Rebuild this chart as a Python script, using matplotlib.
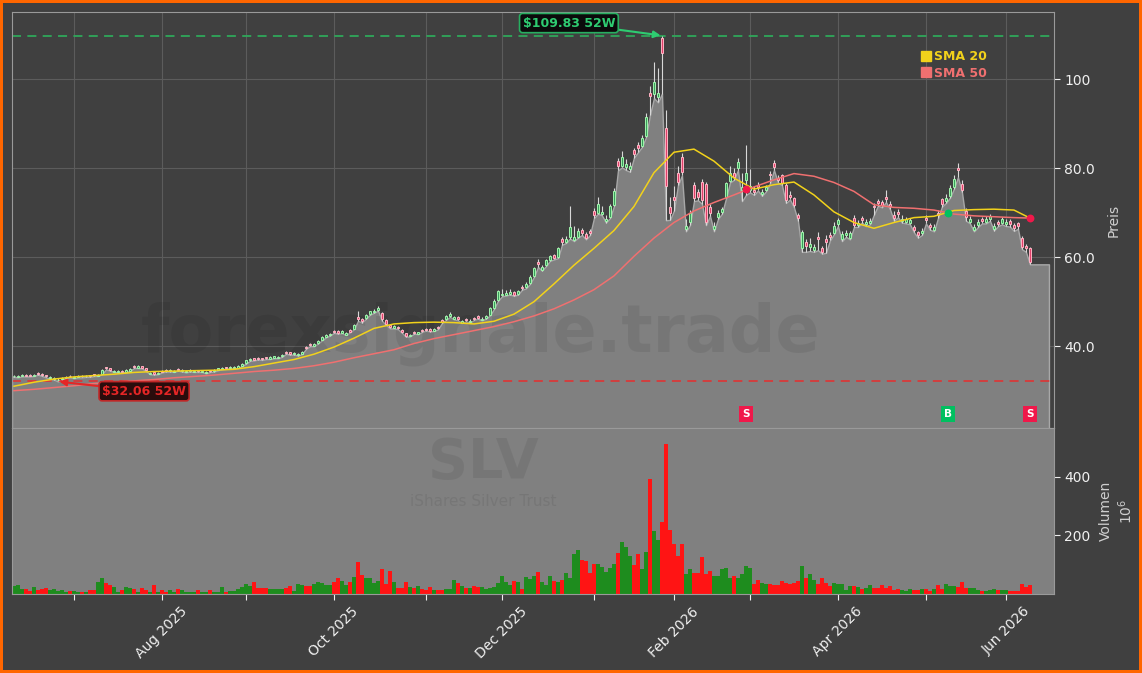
import numpy as np
import matplotlib
matplotlib.use("Agg")
import matplotlib.pyplot as plt
import matplotlib.transforms as mtransforms
from matplotlib.lines import Line2D

# --- daily candles (52 weeks, one entry per trading day) ---
opens = [
    33.2, 33.1, 33.3, 33.6, 33.6, 33.4, 34.0, 33.8, 33.5, 32.8,
    32.6, 32.3, 32.6, 32.9, 33.4, 32.9, 33.1, 33.4, 33.2, 33.5,
    33.7, 33.4, 33.8, 35.3, 35.1, 34.3, 34.2, 34.5, 34.3, 34.5,
    35.5, 35.2, 35.5, 35.1, 33.8, 34.1, 33.8, 34.5, 34.7, 34.4,
    34.3, 34.9, 34.4, 34.2, 34.4, 34.3, 34.6, 34.3, 34.0, 34.6,
    34.4, 34.7, 34.9, 35.3, 35.1, 35.1, 35.2, 35.6, 36.2, 36.8,
    37.3, 37.4, 37.3, 37.5, 37.2, 37.4, 37.4, 37.7, 38.8, 38.6,
    38.2, 38.0, 38.3, 39.9, 40.5, 40.1, 40.7, 41.4, 42.1, 42.5,
    43.5, 43.4, 43.0, 42.6, 43.6, 43.9, 46.6, 46.0, 46.4, 47.2,
    47.7, 48.1, 47.4, 45.8, 44.8, 44.1, 44.4, 43.7, 42.9, 42.3,
    43.2, 42.8, 43.6, 43.9, 43.8, 43.5, 44.3, 45.8, 46.0, 46.8,
    46.2, 46.6, 45.3, 46.2, 45.4, 46.4, 46.7, 45.9, 46.3, 47.0,
    48.6, 50.4, 51.4, 51.6, 51.8, 52.1, 51.8, 53.4, 53.2, 54.2,
    55.8, 59.0, 57.2, 58.2, 59.4, 60.4, 60.0, 64.2, 63.4, 64.5,
    63.8, 64.6, 66.2, 65.2, 66.0, 70.5, 70.0, 69.8, 68.2, 69.0,
    71.8, 81.6, 80.6, 80.2, 79.8, 84.0, 85.2, 85.0, 87.2, 97.0,
    96.8, 96.0, 109.3, 89.0, 71.2, 73.6, 79.0, 82.5, 66.4, 67.9,
    76.2, 74.6, 76.9, 76.4, 71.2, 66.4, 69.0, 70.2, 73.5, 77.2,
    79.0, 80.0, 75.0, 77.4, 75.2, 75.2, 76.2, 74.2, 75.1, 78.8,
    81.1, 77.9, 78.4, 76.2, 74.0, 73.3, 69.4, 62.0, 63.4, 62.2,
    61.6, 64.6, 62.0, 64.0, 65.0, 65.5, 67.4, 64.0, 65.0, 64.4,
    68.8, 67.2, 68.8, 67.4, 67.8, 71.6, 72.6, 72.4, 73.6, 72.0,
    69.6, 70.2, 68.2, 68.0, 67.8, 66.8, 65.6, 65.4, 68.8, 67.3,
    66.2, 70.0, 73.0, 72.6, 73.8, 75.8, 80.0, 76.5, 70.4, 68.0,
    66.2, 67.2, 68.6, 68.0, 68.6, 66.4, 68.0, 67.8, 67.5, 68.1,
    67.2, 67.6, 64.4, 62.6, 62.0,
]
highs = [
    33.6, 33.5, 33.7, 33.7, 33.7, 33.8, 34.1, 33.9, 33.6, 33.2,
    33.0, 32.8, 33.1, 33.3, 33.5, 33.3, 33.5, 33.5, 33.6, 33.6,
    33.8, 33.8, 34.8, 35.4, 35.2, 34.7, 34.6, 34.6, 34.8, 35.0,
    35.7, 35.7, 35.6, 35.2, 34.2, 34.2, 34.2, 34.6, 34.8, 34.8,
    34.7, 35.0, 34.8, 34.6, 34.8, 34.7, 34.7, 34.7, 34.4, 34.7,
    34.8, 35.2, 35.4, 35.4, 35.6, 35.5, 35.7, 36.2, 37.0, 37.3,
    37.4, 37.5, 37.4, 37.6, 37.7, 37.9, 37.8, 38.2, 38.9, 38.7,
    38.7, 38.4, 39.0, 40.1, 40.7, 40.7, 41.4, 42.2, 42.8, 43.0,
    43.7, 43.6, 43.6, 43.1, 43.8, 45.0, 48.0, 46.3, 47.2, 48.0,
    48.3, 49.0, 47.6, 46.0, 45.0, 44.7, 44.6, 43.9, 43.0, 42.8,
    43.4, 43.3, 43.8, 44.1, 44.0, 44.0, 44.5, 46.0, 47.0, 47.6,
    46.8, 46.8, 45.9, 46.4, 46.0, 46.6, 46.9, 46.5, 47.0, 48.8,
    50.5, 52.6, 52.9, 52.6, 52.8, 52.5, 52.7, 53.8, 54.4, 56.0,
    57.9, 59.5, 58.3, 59.7, 60.6, 60.8, 62.4, 64.6, 64.8, 71.5,
    67.0, 66.5, 66.6, 65.6, 66.4, 71.0, 73.5, 71.5, 69.5, 72.0,
    75.5, 82.4, 83.8, 82.0, 81.5, 84.6, 85.8, 87.4, 92.4, 98.4,
    103.8, 102.6, 109.83, 93.0, 73.5, 76.0, 80.4, 83.4, 68.6, 70.6,
    76.8, 75.4, 77.6, 76.9, 72.0, 68.0, 70.6, 71.4, 77.0, 80.4,
    80.0, 82.4, 79.0, 85.2, 79.8, 76.0, 76.8, 75.4, 76.3, 79.4,
    81.8, 78.4, 78.8, 76.6, 74.8, 73.6, 70.0, 66.2, 64.0, 64.4,
    63.0, 65.6, 62.6, 65.0, 65.6, 68.0, 68.8, 66.0, 66.2, 66.0,
    69.4, 68.4, 69.2, 68.6, 68.8, 72.2, 73.0, 72.8, 75.0, 72.6,
    70.4, 70.8, 69.4, 69.0, 68.8, 67.2, 66.0, 66.6, 69.4, 67.8,
    67.4, 70.6, 73.4, 74.2, 76.2, 78.4, 81.2, 77.4, 71.0, 69.2,
    67.4, 68.6, 69.0, 69.2, 69.8, 67.6, 68.4, 69.0, 68.6, 68.5,
    67.6, 68.0, 64.8, 63.0, 62.4,
]
lows = [
    33.1, 33.0, 33.2, 33.2, 33.2, 33.3, 33.6, 33.3, 33.0, 32.7,
    32.5, 32.06, 32.5, 32.8, 33.0, 32.8, 33.0, 33.0, 33.1, 33.1,
    33.3, 33.3, 33.7, 34.8, 34.5, 34.2, 34.1, 34.1, 34.2, 34.4,
    35.1, 35.1, 35.0, 34.4, 33.7, 33.6, 33.7, 34.1, 34.3, 34.3,
    34.2, 34.5, 34.3, 34.1, 34.3, 34.2, 34.2, 34.2, 33.9, 34.2,
    34.3, 34.6, 34.8, 34.9, 35.0, 35.0, 35.1, 35.5, 36.1, 36.7,
    36.8, 37.0, 36.9, 37.1, 37.1, 37.3, 37.3, 37.6, 38.3, 38.1,
    38.1, 37.9, 38.2, 39.4, 40.0, 40.0, 40.6, 41.3, 42.0, 42.4,
    43.0, 42.8, 42.9, 42.5, 43.1, 43.8, 45.7, 45.3, 46.2, 47.1,
    47.5, 48.0, 45.7, 44.8, 44.0, 44.0, 43.8, 43.0, 42.1, 42.2,
    42.8, 42.7, 43.2, 43.5, 43.3, 43.4, 43.8, 45.2, 45.9, 46.6,
    46.0, 45.8, 45.2, 45.6, 45.3, 45.9, 46.2, 45.8, 46.2, 46.9,
    48.4, 50.2, 51.2, 51.4, 51.6, 51.3, 51.6, 52.7, 53.0, 54.0,
    55.6, 57.8, 57.0, 58.0, 59.2, 59.5, 59.8, 62.8, 63.2, 64.2,
    63.6, 64.4, 65.0, 64.0, 65.0, 68.8, 69.8, 69.4, 67.8, 68.8,
    71.5, 79.5, 80.2, 79.6, 79.2, 82.4, 83.6, 84.8, 87.0, 92.0,
    95.8, 94.8, 96.8, 68.3, 68.4, 70.5, 76.2, 78.4, 65.8, 67.2,
    72.6, 72.8, 72.0, 67.2, 69.3, 65.8, 68.6, 69.8, 73.2, 76.8,
    77.4, 79.6, 72.6, 74.0, 74.6, 74.0, 75.0, 73.8, 74.8, 76.6,
    79.6, 76.8, 76.2, 72.2, 73.0, 71.2, 68.2, 61.2, 61.2, 61.4,
    61.2, 61.6, 60.8, 61.0, 63.8, 65.2, 67.0, 63.6, 64.6, 64.0,
    66.8, 66.8, 67.8, 67.0, 67.4, 69.6, 71.6, 71.2, 72.4, 70.8,
    68.2, 69.0, 67.8, 67.6, 67.4, 65.6, 64.4, 65.0, 67.6, 66.2,
    65.8, 68.8, 71.4, 72.2, 73.4, 75.4, 78.0, 74.6, 68.2, 67.6,
    65.8, 66.8, 67.6, 67.6, 68.2, 66.0, 67.0, 67.4, 67.0, 66.9,
    65.9, 66.4, 61.8, 61.2, 58.4,
]
closes = [
    33.4, 33.3, 33.5, 33.3, 33.4, 33.6, 33.8, 33.5, 33.2, 33.0,
    32.8, 32.5, 32.9, 33.1, 33.2, 33.1, 33.3, 33.2, 33.4, 33.3,
    33.5, 33.6, 34.6, 35.0, 34.7, 34.5, 34.4, 34.3, 34.6, 34.8,
    35.3, 35.5, 35.2, 34.6, 34.0, 33.8, 34.0, 34.3, 34.5, 34.6,
    34.5, 34.7, 34.6, 34.4, 34.6, 34.5, 34.4, 34.5, 34.2, 34.4,
    34.6, 35.0, 35.2, 35.1, 35.4, 35.3, 35.5, 36.0, 36.8, 37.1,
    37.0, 37.2, 37.1, 37.3, 37.5, 37.7, 37.6, 38.0, 38.5, 38.3,
    38.5, 38.2, 38.8, 39.6, 40.2, 40.5, 41.2, 42.0, 42.6, 42.8,
    43.2, 43.0, 43.4, 42.9, 43.3, 44.8, 46.0, 45.6, 47.0, 47.8,
    48.0, 48.6, 46.0, 45.0, 44.2, 44.5, 44.0, 43.2, 42.4, 42.6,
    43.0, 43.1, 43.4, 43.7, 43.5, 43.8, 44.0, 45.5, 46.8, 47.3,
    46.5, 46.0, 45.6, 45.9, 45.7, 46.1, 46.4, 46.2, 46.8, 48.5,
    50.2, 52.3, 51.8, 52.0, 52.2, 51.6, 52.4, 53.0, 54.0, 55.6,
    57.5, 58.4, 57.8, 59.3, 60.2, 59.8, 62.0, 63.5, 64.2, 66.8,
    64.5, 66.0, 65.4, 64.3, 65.5, 69.5, 72.0, 70.2, 68.6, 71.5,
    74.8, 80.5, 82.6, 81.0, 80.6, 83.2, 84.5, 86.8, 91.5, 96.2,
    99.5, 97.0, 106.0, 76.0, 70.0, 72.8, 77.0, 79.2, 67.0, 70.0,
    73.3, 73.5, 72.8, 67.9, 70.0, 67.0, 69.9, 70.8, 76.6, 78.9,
    78.0, 81.5, 75.7, 78.9, 76.0, 74.6, 75.7, 74.6, 75.7, 78.4,
    80.2, 77.3, 76.6, 72.8, 73.5, 71.7, 68.8, 65.6, 62.5, 63.0,
    62.2, 64.0, 61.2, 63.5, 64.6, 67.0, 68.3, 65.2, 65.5, 65.4,
    67.2, 67.8, 68.4, 67.9, 68.2, 71.2, 72.1, 71.8, 73.0, 71.5,
    68.8, 69.7, 68.7, 68.5, 68.3, 66.2, 65.0, 66.0, 68.3, 66.8,
    66.8, 69.5, 72.0, 73.4, 75.5, 77.5, 79.5, 75.2, 69.0, 68.6,
    66.8, 68.0, 68.2, 68.6, 69.2, 67.0, 67.5, 68.5, 68.0, 67.5,
    66.5, 67.0, 62.3, 62.0, 58.9,
]
# volume in millions
volume = [
    28, 31, 17, 17, 10, 24, 12, 17, 20, 14,
    17, 11, 14, 8, 9, 9, 7, 8, 7, 14,
    14, 41, 54, 37, 32, 24, 8, 14, 23, 19,
    17, 8, 20, 14, 6, 31, 7, 14, 6, 14,
    6, 17, 14, 6, 8, 8, 14, 8, 6, 14,
    8, 8, 25, 6, 10, 10, 16, 25, 34, 27,
    41, 20, 20, 20, 17, 17, 17, 17, 21, 27,
    11, 34, 29, 27, 27, 35, 41, 38, 30, 32,
    41, 54, 43, 32, 41, 58, 108, 64, 54, 54,
    37, 43, 85, 34, 78, 41, 20, 20, 41, 25,
    20, 27, 17, 14, 24, 14, 14, 14, 17, 17,
    47, 38, 27, 19, 19, 27, 25, 25, 16, 20,
    25, 38, 63, 41, 29, 45, 41, 16, 59, 52,
    63, 75, 41, 32, 61, 45, 41, 47, 70, 54,
    136, 149, 115, 113, 70, 102, 102, 93, 75, 88,
    102, 140, 176, 160, 129, 99, 138, 86, 142, 393,
    215, 183, 244, 513, 217, 172, 129, 170, 68, 86,
    70, 72, 127, 68, 79, 61, 61, 84, 90, 54,
    61, 54, 68, 95, 88, 34, 47, 36, 34, 34,
    29, 29, 43, 38, 34, 36, 43, 95, 54, 68,
    47, 34, 54, 36, 27, 38, 34, 34, 14, 27,
    27, 23, 16, 20, 29, 20, 20, 29, 20, 27,
    14, 18, 14, 11, 16, 14, 14, 16, 16, 9,
    18, 29, 18, 34, 27, 27, 25, 41, 20, 20,
    20, 14, 9, 11, 14, 16, 14, 14, 14, 9,
    9, 9, 34, 23, 32,
]

# moving averages, read every 5th session (last one = final session)
sma_step = 5
sma20 = [
    31.0, 31.9, 32.6, 33.1, 33.4, 33.7, 34.1, 34.3, 34.4, 34.5,
    34.6, 34.8, 35.4, 36.2, 37.0, 38.2, 39.8, 41.8, 44.0, 45.0,
    45.3, 45.4, 45.3, 45.0, 45.6, 47.2, 50.0, 54.0, 58.2, 62.0,
    66.0, 71.4, 79.0, 83.6, 84.3, 81.6, 77.8, 75.3, 76.3, 76.9,
    74.0, 70.2, 67.8, 66.5, 67.8, 68.9, 69.2, 70.5, 70.7, 70.8,
    70.6, 68.8,
]
sma50 = [
    30.0, 30.3, 30.7, 31.1, 31.6, 31.9, 32.2, 32.5, 32.9, 33.2,
    33.5, 33.9, 34.3, 34.6, 35.0, 35.6, 36.4, 37.4, 38.3, 39.2,
    40.6, 41.7, 42.6, 43.5, 44.4, 45.5, 46.8, 48.4, 50.4, 52.7,
    55.8, 60.2, 64.3, 67.8, 70.4, 72.3, 74.0, 75.8, 77.4, 78.8,
    78.2, 76.8, 74.8, 71.8, 71.2, 71.0, 70.6, 69.7, 69.3, 69.1,
    68.9, 68.8,
]

# SMA crossings (session, price, signal)
sig_idx = [183, 233.5, 254]
sig_price = [75.4, 69.9, 68.8]
sig_kind = ["S", "B", "S"]

# x axis: first session of each month
month_pos = [15, 37, 58, 80, 103, 122, 145, 165, 184, 206, 228, 248]
month_labels = ["", "Aug 2025", "", "Oct 2025", "", "Dec 2025", "",
                "Feb 2026", "", "Apr 2026", "", "Jun 2026"]
price_ticks = [40, 60, 80, 100]
price_tick_labels = ["40.0", "60.0", "80.0", "100"]
vol_ticks = [200, 400]

o = np.array(opens)
h = np.array(highs)
l = np.array(lows)
c = np.array(closes)
v = np.array(volume)
idx = np.arange(len(c))
up = c >= o
sma_x = list(range(0, len(c), sma_step)) + [len(c) - 1]

BG = "#404040"
fig = plt.figure(figsize=(11.42, 6.73), dpi=100)
fig.patch.set_facecolor(BG)
fig.patch.set_edgecolor("#ff6600")
fig.patch.set_linewidth(4)

ax = fig.add_axes([0.0105, 0.364, 0.9124, 0.618])
axv = fig.add_axes([0.0105, 0.1174, 0.9124, 0.2466])

# ---- price panel ----
ax.set_facecolor(BG)
xf = np.r_[idx[0] - 0.5, idx, idx[-1] + 4.75]
lf = np.r_[l[0], l, l[-1]]
ax.fill_between(xf, lf, 0, facecolor="#808080", edgecolor="#a8a8a8",
                lw=1, zorder=1)
ax.vlines(idx, l, h, color="#d8d8d8", lw=0.8, zorder=3)
ax.bar(idx[up], (c - o)[up], bottom=o[up], width=0.6, color="#3c9c5c",
       edgecolor="#a0f5ac", lw=0.7, zorder=4)
ax.bar(idx[~up], (o - c)[~up], bottom=c[~up], width=0.6, color="#e0406a",
       edgecolor="#ffb3c3", lw=0.7, zorder=4)

ax.plot(sma_x, sma20, color="#f2d21b", lw=1.1, zorder=5)
ax.plot(sma_x, sma50, color="#f07070", lw=1.1, zorder=5)

hi, lo = h.max(), l.min()
ihi, ilo = h.argmax(), l.argmin()
ax.axhline(hi, color="#2fa85a", ls=(0, (5, 3.5)), lw=1.3, zorder=2)
ax.axhline(lo, color="#d83a3a", ls=(0, (5, 3.5)), lw=1.3, zorder=2)

ax.annotate(f"${hi:.2f} 52W", xy=(ihi, hi), xytext=(-67, 9),
            textcoords="offset points", ha="center", va="center",
            color="#2ecc71", fontsize=9, fontweight="bold", zorder=10,
            bbox=dict(boxstyle="round,pad=0.25", fc="#0b0b0b", ec="#27ae60", lw=1.2),
            arrowprops=dict(arrowstyle="-|>", color="#2ecc71", lw=1.5,
                            mutation_scale=10, shrinkA=0, shrinkB=1))
ax.annotate(f"${lo:.2f} 52W", xy=(ilo, lo), xytext=(62, -7),
            textcoords="offset points", ha="center", va="center",
            color="#e52626", fontsize=9, fontweight="bold", zorder=10,
            bbox=dict(boxstyle="round,pad=0.25", fc="#2a0c0c", ec="#c02828", lw=1.2),
            arrowprops=dict(arrowstyle="-|>", color="#e52626", lw=1.5,
                            mutation_scale=10, shrinkA=0, shrinkB=1))

trans = mtransforms.blended_transform_factory(ax.transData, ax.transAxes)
for xi, p, k in zip(sig_idx, sig_price, sig_kind):
    col = "#00c060" if k == "B" else "#f0184a"
    ax.scatter(xi, p, s=32, color=col, zorder=6, linewidths=0)
    ax.text(xi, 0.034, k, transform=trans, ha="center", va="center",
            fontsize=7.5, fontweight="bold", color="white", zorder=7,
            bbox=dict(boxstyle="square,pad=0.3", fc=col, ec="none"))

ax.text(0.450, 0.185, "forexsignale.trade", transform=ax.transAxes,
        ha="center", va="baseline", fontsize=47, fontweight="bold",
        color="black", alpha=0.07, zorder=2.5)

handles = [Line2D([], [], marker="s", ls="none", color="#f2d21b", ms=7),
           Line2D([], [], marker="s", ls="none", color="#f07070", ms=7)]
leg = ax.legend(handles, ["SMA 20", "SMA 50"], loc="upper left",
                bbox_to_anchor=(0.860, 0.935), frameon=False,
                handletextpad=0.2, labelspacing=0.25, handlelength=1.0,
                prop=dict(weight="bold", size=9))
for t, col in zip(leg.get_texts(), ["#f2d21b", "#f07070"]):
    t.set_color(col)

ax.set_xlim(-0.5, 260)
ax.set_ylim(21.6, 115.1)
ax.yaxis.tick_right()
ax.yaxis.set_label_position("right")
ax.set_yticks(price_ticks, price_tick_labels)
ax.set_xticks(month_pos)
ax.tick_params(axis="x", length=0, labelbottom=False)
ax.tick_params(axis="y", colors="#f0f0f0", labelsize=10, length=4)
ax.set_ylabel("Preis", color="#cfcfcf", fontsize=10, labelpad=8)
ax.grid(True, color="#5c5c5c", lw=0.8)
ax.set_axisbelow(True)
for sp in ax.spines.values():
    sp.set_color("#9a9a9a")

# ---- volume panel ----
axv.set_facecolor("#808080")
axv.bar(idx, v, width=1.0, color=np.where(up, "#1e8c1e", "#ff1414"), lw=0)
axv.set_xlim(-0.5, 260)
axv.set_ylim(0, 566)
axv.set_xticks(month_pos, month_labels, rotation=45)
axv.tick_params(axis="x", colors="#f0f0f0", labelsize=10, length=4)
axv.yaxis.tick_right()
axv.yaxis.set_label_position("right")
axv.set_yticks(vol_ticks)
axv.tick_params(axis="y", colors="#f0f0f0", labelsize=10, length=4)
axv.set_ylabel("Volumen\n$10^{6}$", color="#cfcfcf", fontsize=10, labelpad=6)
for sp in axv.spines.values():
    sp.set_color("#9a9a9a")
axv.text(0.452, 0.70, "SLV", transform=axv.transAxes, ha="center",
         va="baseline", fontsize=40, fontweight="bold", color="black", alpha=0.07)
axv.text(0.452, 0.56, "iShares Silver Trust", transform=axv.transAxes,
         ha="center", va="center", fontsize=11, color="black", alpha=0.07)

fig.savefig("out.png", dpi=100, facecolor=fig.get_facecolor(),
            edgecolor=fig.get_edgecolor())
